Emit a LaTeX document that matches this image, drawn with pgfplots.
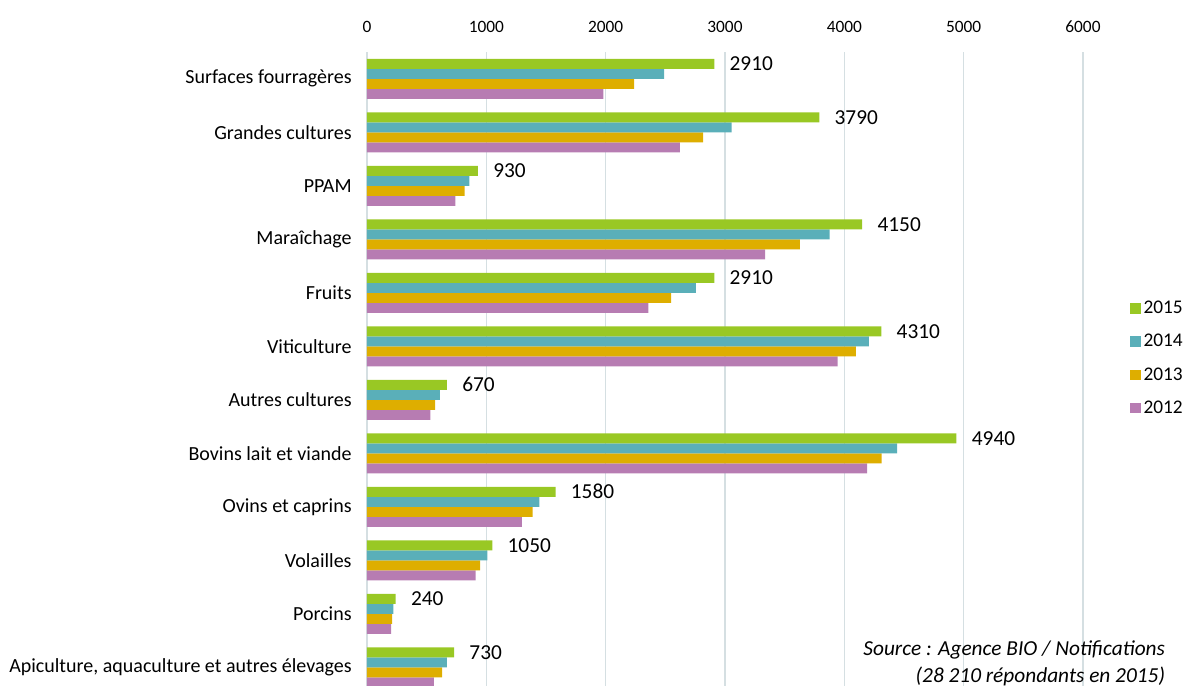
\documentclass[border=0pt]{standalone}
\usepackage{pgfplots}
\pgfplotsset{compat=1.18}
\usepackage{fontspec}
\setmainfont{Carlito}
\definecolor{c15}{HTML}{99C824}
\definecolor{c14}{HTML}{5AAFB9}
\definecolor{c13}{HTML}{DEAE00}
\definecolor{c12}{HTML}{B77CB2}
\definecolor{gridc}{HTML}{D5DFE2}
\begin{document}
\begin{tikzpicture}[x=1pt,y=1pt]
  % crop like the reference (its last group is cut at the bottom)
  \path[use as bounding box] (-275.25,6) rectangle (617.25,520.5);
  \clip (-275.25,6) rectangle (617.25,520.5);
  \begin{axis}[
      at={(0,0)}, anchor=south west,
      scale only axis,
      width=537pt, height=481.5pt,
      xbar=0pt, bar width=7.5pt,
      xmin=0, xmax=6000,
      ymin=-0.5, ymax=11.5, y dir=reverse,
      xtick={0,1000,...,6000},
      xticklabel pos=top,
      ytick={0,...,11},
      yticklabels={Surfaces fourragères, Grandes cultures, PPAM, Maraîchage, Fruits,
        Viticulture, Autres cultures, Bovins lait et viande, Ovins et caprins,
        Volailles, Porcins, {Apiculture, aquaculture et autres élevages}},
      axis line style={draw=none},
      major tick length=0pt,
      xmajorgrids, grid style={gridc, line width=0.8pt},
      /pgf/number format/1000 sep={},
      /pgf/number format/assume math mode=true,
      xticklabel style={font=\fontsize{13}{15}\selectfont, yshift=11pt},
      yticklabel style={font=\fontsize{15}{17}\selectfont, xshift=-8pt},
      every axis plot/.append style={draw=none},
      legend style={at={(1.06,0.523)}, anchor=west, draw=none, fill=none,
        font=\fontsize{14.5}{16}\selectfont, row sep=10pt,
        /tikz/every even column/.append style={column sep=5pt}},
      legend image code/.code={\fill[#1] (0pt,-4pt) rectangle (8pt,4pt);},
      legend cell align=left,
      reverse legend,
    ]
    \addplot+[fill=c12] coordinates {(1980,0) (2621,1) (741,2) (3337,3) (2358,4) (3943,5)
                   (532,6) (4191,7) (1297,8) (910,9) (202,10) (560,11)};
    \addplot+[fill=c13] coordinates {(2239,0) (2817,1) (819,2) (3627,3) (2548,4) (4096,5)
                   (571,6) (4312,7) (1387,8) (947,9) (210,10) (630,11)};
    \addplot+[fill=c14] coordinates {(2490,0) (3056,1) (858,2) (3877,3) (2756,4) (4206,5)
                   (610,6) (4443,7) (1445,8) (1008,9) (221,10) (669,11)};
    \addplot+[fill=c15, nodes near coords, point meta=x,
      every node near coord/.append style={anchor=west, xshift=8pt, black,
        font=\fontsize{16}{18}\selectfont}]
      coordinates {(2910,0) (3790,1) (930,2) (4150,3) (2910,4) (4310,5)
                   (670,6) (4940,7) (1580,8) (1050,9) (240,10) (730,11)};
    \legend{2012,2013,2014,2015}
  \end{axis}
  \node[anchor=east, align=right, font=\fontsize{16}{20}\selectfont\itshape]
    at (602,23) {Source : Agence BIO / Notifications\\(28 210 répondants en 2015)};
\end{tikzpicture}
\end{document}
